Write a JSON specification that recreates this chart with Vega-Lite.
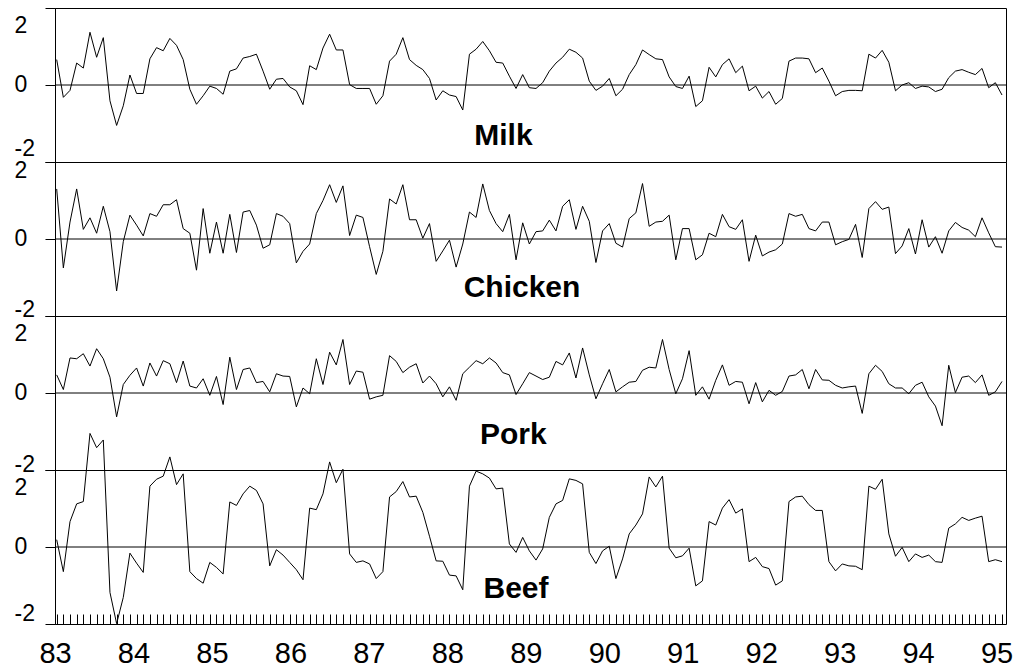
{
  "$schema": "https://vega.github.io/schema/vega-lite/v6.json",
  "background": "white",
  "padding": {"left": 13, "top": 7, "right": 5, "bottom": 5},
  "bounds": "flush",
  "datasets": {
    "food": [
      {"i":0,"milk":0.66,"chicken":1.30,"pork":0.47,"beef":0.19},
      {"i":1,"milk":-0.32,"chicken":-0.75,"pork":0.09,"beef":-0.64},
      {"i":2,"milk":-0.14,"chicken":0.44,"pork":0.91,"beef":0.66},
      {"i":3,"milk":0.57,"chicken":1.30,"pork":0.89,"beef":1.12},
      {"i":4,"milk":0.44,"chicken":0.25,"pork":1.02,"beef":1.18},
      {"i":5,"milk":1.37,"chicken":0.55,"pork":0.70,"beef":2.95},
      {"i":6,"milk":0.72,"chicken":0.15,"pork":1.15,"beef":2.58},
      {"i":7,"milk":1.23,"chicken":0.85,"pork":0.89,"beef":2.78},
      {"i":8,"milk":-0.41,"chicken":0.19,"pork":0.41,"beef":-1.18},
      {"i":9,"milk":-1.05,"chicken":-1.35,"pork":-0.62,"beef":-1.99},
      {"i":10,"milk":-0.54,"chicken":-0.07,"pork":0.22,"beef":-1.31},
      {"i":11,"milk":0.26,"chicken":0.62,"pork":0.46,"beef":-0.16},
      {"i":12,"milk":-0.22,"chicken":0.36,"pork":0.65,"beef":-0.42},
      {"i":13,"milk":-0.22,"chicken":0.08,"pork":0.18,"beef":-0.66},
      {"i":14,"milk":0.68,"chicken":0.66,"pork":0.78,"beef":1.58},
      {"i":15,"milk":0.97,"chicken":0.59,"pork":0.44,"beef":1.76},
      {"i":16,"milk":0.89,"chicken":0.89,"pork":0.84,"beef":1.84},
      {"i":17,"milk":1.21,"chicken":0.89,"pork":0.76,"beef":2.34},
      {"i":18,"milk":1.03,"chicken":1.02,"pork":0.27,"beef":1.62},
      {"i":19,"milk":0.66,"chicken":0.27,"pork":0.83,"beef":1.90},
      {"i":20,"milk":-0.11,"chicken":0.15,"pork":0.18,"beef":-0.64},
      {"i":21,"milk":-0.50,"chicken":-0.81,"pork":0.13,"beef":-0.82},
      {"i":22,"milk":-0.28,"chicken":0.79,"pork":0.37,"beef":-0.94},
      {"i":23,"milk":-0.03,"chicken":-0.37,"pork":-0.06,"beef":-0.40},
      {"i":24,"milk":-0.09,"chicken":0.44,"pork":0.43,"beef":-0.53},
      {"i":25,"milk":-0.24,"chicken":-0.37,"pork":-0.30,"beef":-0.70},
      {"i":26,"milk":0.36,"chicken":0.64,"pork":0.93,"beef":1.17},
      {"i":27,"milk":0.42,"chicken":-0.35,"pork":0.09,"beef":1.08},
      {"i":28,"milk":0.70,"chicken":0.70,"pork":0.61,"beef":1.38},
      {"i":29,"milk":0.74,"chicken":0.74,"pork":0.65,"beef":1.58},
      {"i":30,"milk":0.80,"chicken":0.36,"pork":0.27,"beef":1.47},
      {"i":31,"milk":0.36,"chicken":-0.24,"pork":0.30,"beef":1.12},
      {"i":32,"milk":-0.11,"chicken":-0.15,"pork":0.03,"beef":-0.49},
      {"i":33,"milk":0.15,"chicken":0.66,"pork":0.50,"beef":-0.07},
      {"i":34,"milk":0.17,"chicken":0.59,"pork":0.44,"beef":-0.21},
      {"i":35,"milk":-0.05,"chicken":0.40,"pork":0.43,"beef":-0.40},
      {"i":36,"milk":-0.15,"chicken":-0.62,"pork":-0.36,"beef":-0.59},
      {"i":37,"milk":-0.51,"chicken":-0.32,"pork":0.13,"beef":-0.85},
      {"i":38,"milk":0.50,"chicken":-0.13,"pork":-0.02,"beef":1.01},
      {"i":39,"milk":0.40,"chicken":0.66,"pork":0.89,"beef":0.97},
      {"i":40,"milk":0.96,"chicken":1.00,"pork":0.22,"beef":1.38},
      {"i":41,"milk":1.32,"chicken":1.41,"pork":1.06,"beef":2.21},
      {"i":42,"milk":0.91,"chicken":0.95,"pork":0.73,"beef":1.67},
      {"i":43,"milk":0.91,"chicken":1.38,"pork":1.39,"beef":2.02},
      {"i":44,"milk":0.01,"chicken":0.09,"pork":0.22,"beef":-0.18},
      {"i":45,"milk":-0.09,"chicken":0.62,"pork":0.57,"beef":-0.40},
      {"i":46,"milk":-0.09,"chicken":0.56,"pork":0.54,"beef":-0.36},
      {"i":47,"milk":-0.09,"chicken":-0.20,"pork":-0.16,"beef":-0.44},
      {"i":48,"milk":-0.50,"chicken":-0.92,"pork":-0.10,"beef":-0.82},
      {"i":49,"milk":-0.28,"chicken":-0.32,"pork":-0.06,"beef":-0.64},
      {"i":50,"milk":0.62,"chicken":1.04,"pork":0.97,"beef":1.30},
      {"i":51,"milk":0.80,"chicken":0.91,"pork":0.82,"beef":1.44},
      {"i":52,"milk":1.23,"chicken":1.41,"pork":0.53,"beef":1.70},
      {"i":53,"milk":0.66,"chicken":0.50,"pork":0.67,"beef":1.30},
      {"i":54,"milk":0.51,"chicken":0.50,"pork":0.76,"beef":1.32},
      {"i":55,"milk":0.40,"chicken":0.02,"pork":0.26,"beef":0.90},
      {"i":56,"milk":0.17,"chicken":0.40,"pork":0.44,"beef":0.28},
      {"i":57,"milk":-0.39,"chicken":-0.58,"pork":0.24,"beef":-0.36},
      {"i":58,"milk":-0.15,"chicken":-0.31,"pork":-0.10,"beef":-0.37},
      {"i":59,"milk":-0.26,"chicken":-0.03,"pork":0.16,"beef":-0.73},
      {"i":60,"milk":-0.30,"chicken":-0.73,"pork":-0.19,"beef":-0.75},
      {"i":61,"milk":-0.65,"chicken":-0.13,"pork":0.50,"beef":-1.11},
      {"i":62,"milk":0.80,"chicken":0.70,"pork":0.67,"beef":1.58},
      {"i":63,"milk":0.93,"chicken":0.56,"pork":0.84,"beef":1.97},
      {"i":64,"milk":1.13,"chicken":1.43,"pork":0.76,"beef":1.90},
      {"i":65,"milk":0.89,"chicken":0.74,"pork":0.91,"beef":1.79},
      {"i":66,"milk":0.59,"chicken":0.40,"pork":0.78,"beef":1.51},
      {"i":67,"milk":0.57,"chicken":0.19,"pork":0.53,"beef":1.53},
      {"i":68,"milk":0.23,"chicken":0.64,"pork":0.47,"beef":0.08},
      {"i":69,"milk":-0.09,"chicken":-0.54,"pork":-0.04,"beef":-0.14},
      {"i":70,"milk":0.27,"chicken":0.42,"pork":0.24,"beef":0.25},
      {"i":71,"milk":-0.07,"chicken":-0.13,"pork":0.53,"beef":-0.10},
      {"i":72,"milk":-0.09,"chicken":0.19,"pork":0.44,"beef":-0.34},
      {"i":73,"milk":0.06,"chicken":0.21,"pork":0.35,"beef":-0.05},
      {"i":74,"milk":0.36,"chicken":0.49,"pork":0.41,"beef":0.77},
      {"i":75,"milk":0.57,"chicken":0.21,"pork":0.82,"beef":1.12},
      {"i":76,"milk":0.72,"chicken":0.85,"pork":0.73,"beef":1.21},
      {"i":77,"milk":0.93,"chicken":1.02,"pork":1.04,"beef":1.77},
      {"i":78,"milk":0.85,"chicken":0.25,"pork":0.39,"beef":1.73},
      {"i":79,"milk":0.70,"chicken":0.85,"pork":1.17,"beef":1.64},
      {"i":80,"milk":0.10,"chicken":0.46,"pork":0.47,"beef":-0.14},
      {"i":81,"milk":-0.14,"chicken":-0.61,"pork":-0.15,"beef":-0.43},
      {"i":82,"milk":-0.03,"chicken":0.21,"pork":0.24,"beef":-0.10},
      {"i":83,"milk":0.17,"chicken":0.40,"pork":0.61,"beef":0.02},
      {"i":84,"milk":-0.28,"chicken":-0.11,"pork":0.03,"beef":-0.82},
      {"i":85,"milk":-0.11,"chicken":-0.21,"pork":0.16,"beef":-0.31},
      {"i":86,"milk":0.27,"chicken":0.53,"pork":0.28,"beef":0.34},
      {"i":87,"milk":0.53,"chicken":0.68,"pork":0.30,"beef":0.57},
      {"i":88,"milk":0.91,"chicken":1.44,"pork":0.59,"beef":0.86},
      {"i":89,"milk":0.79,"chicken":0.33,"pork":0.67,"beef":1.82},
      {"i":90,"milk":0.68,"chicken":0.44,"pork":0.65,"beef":1.56},
      {"i":91,"milk":0.66,"chicken":0.46,"pork":1.39,"beef":1.84},
      {"i":92,"milk":0.21,"chicken":0.62,"pork":0.61,"beef":-0.03},
      {"i":93,"milk":-0.04,"chicken":-0.54,"pork":-0.02,"beef":-0.28},
      {"i":94,"milk":-0.09,"chicken":0.27,"pork":0.37,"beef":-0.23},
      {"i":95,"milk":0.23,"chicken":0.27,"pork":1.10,"beef":-0.03},
      {"i":96,"milk":-0.56,"chicken":-0.54,"pork":-0.06,"beef":-1.01},
      {"i":97,"milk":-0.41,"chicken":-0.41,"pork":0.16,"beef":-0.88},
      {"i":98,"milk":0.46,"chicken":0.15,"pork":-0.16,"beef":0.66},
      {"i":99,"milk":0.21,"chicken":0.06,"pork":0.33,"beef":0.57},
      {"i":100,"milk":0.53,"chicken":0.64,"pork":0.73,"beef":1.01},
      {"i":101,"milk":0.68,"chicken":0.32,"pork":0.20,"beef":1.23},
      {"i":102,"milk":0.32,"chicken":0.25,"pork":0.30,"beef":0.88},
      {"i":103,"milk":0.49,"chicken":0.50,"pork":0.28,"beef":0.99},
      {"i":104,"milk":-0.15,"chicken":-0.58,"pork":-0.28,"beef":-0.38},
      {"i":105,"milk":-0.03,"chicken":0.10,"pork":0.27,"beef":-0.27},
      {"i":106,"milk":-0.34,"chicken":-0.44,"pork":-0.23,"beef":-0.51},
      {"i":107,"milk":-0.17,"chicken":-0.34,"pork":0.07,"beef":-0.56},
      {"i":108,"milk":-0.50,"chicken":-0.28,"pork":-0.06,"beef":-0.99},
      {"i":109,"milk":-0.35,"chicken":-0.13,"pork":0.04,"beef":-0.88},
      {"i":110,"milk":0.62,"chicken":0.66,"pork":0.44,"beef":1.18},
      {"i":111,"milk":0.70,"chicken":0.59,"pork":0.47,"beef":1.30},
      {"i":112,"milk":0.70,"chicken":0.64,"pork":0.61,"beef":1.32},
      {"i":113,"milk":0.68,"chicken":0.27,"pork":0.11,"beef":1.10},
      {"i":114,"milk":0.32,"chicken":0.21,"pork":0.61,"beef":0.95},
      {"i":115,"milk":0.44,"chicken":0.44,"pork":0.34,"beef":0.95},
      {"i":116,"milk":0.10,"chicken":0.44,"pork":0.33,"beef":-0.38},
      {"i":117,"milk":-0.28,"chicken":-0.15,"pork":0.20,"beef":-0.62},
      {"i":118,"milk":-0.17,"chicken":-0.07,"pork":0.13,"beef":-0.44},
      {"i":119,"milk":-0.14,"chicken":-0.01,"pork":0.16,"beef":-0.49},
      {"i":120,"milk":-0.14,"chicken":0.38,"pork":0.18,"beef":-0.50},
      {"i":121,"milk":-0.15,"chicken":-0.48,"pork":-0.53,"beef":-0.59},
      {"i":122,"milk":0.80,"chicken":0.79,"pork":0.50,"beef":1.58},
      {"i":123,"milk":0.70,"chicken":0.97,"pork":0.72,"beef":1.50},
      {"i":124,"milk":0.90,"chicken":0.77,"pork":0.56,"beef":1.76},
      {"i":125,"milk":0.59,"chicken":0.83,"pork":0.24,"beef":0.34},
      {"i":126,"milk":-0.15,"chicken":-0.38,"pork":0.13,"beef":-0.24},
      {"i":127,"milk":0.00,"chicken":-0.18,"pork":0.13,"beef":-0.01},
      {"i":128,"milk":0.06,"chicken":0.27,"pork":-0.02,"beef":-0.38},
      {"i":129,"milk":-0.09,"chicken":-0.39,"pork":0.20,"beef":-0.18},
      {"i":130,"milk":-0.03,"chicken":0.50,"pork":0.28,"beef":-0.27},
      {"i":131,"milk":-0.05,"chicken":-0.21,"pork":-0.10,"beef":-0.21},
      {"i":132,"milk":-0.17,"chicken":0.06,"pork":-0.34,"beef":-0.38},
      {"i":133,"milk":-0.11,"chicken":-0.37,"pork":-0.85,"beef":-0.40},
      {"i":134,"milk":0.19,"chicken":0.21,"pork":0.72,"beef":0.49},
      {"i":135,"milk":0.36,"chicken":0.43,"pork":0.01,"beef":0.60},
      {"i":136,"milk":0.40,"chicken":0.30,"pork":0.41,"beef":0.77},
      {"i":137,"milk":0.33,"chicken":0.23,"pork":0.44,"beef":0.69},
      {"i":138,"milk":0.27,"chicken":0.06,"pork":0.27,"beef":0.75},
      {"i":139,"milk":0.43,"chicken":0.55,"pork":0.47,"beef":0.80},
      {"i":140,"milk":-0.07,"chicken":0.16,"pork":-0.06,"beef":-0.38},
      {"i":141,"milk":0.06,"chicken":-0.20,"pork":0.03,"beef":-0.33},
      {"i":142,"milk":-0.26,"chicken":-0.21,"pork":0.30,"beef":-0.38}
    ]
  },
  "spacing": 0,
  "vconcat": [
    {
      "width": 951, "height": 154,
      "layer": [
        {"data": {"values": [{}]}, "mark": {"type": "rule", "color": "black", "strokeWidth": 1},
         "encoding": {"y": {"datum": 0, "type": "quantitative", "scale": {"domain": [-2, 2]}}}},
        {"data": {"name": "food"}, "mark": {"type": "line", "color": "black", "strokeWidth": 1},
         "encoding": {
           "x": {"field": "i", "type": "quantitative", "scale": {"domain": [-0.255, 142.6]}, "axis": null},
           "y": {"field": "milk", "type": "quantitative", "scale": {"domain": [-2, 2]},
                 "axis": {"title": null, "values": [-2, -1, 0, 1, 2], "labelExpr": "datum.value % 2 == 0 ? '' + datum.value : ''", "grid": false, "domainColor": "black", "tickColor": "black", "tickSize": {"condition": {"test": "abs(datum.value) == 1", "value": 5}, "value": 10}, "labelAlign": "left", "labelBaseline": "middle", "labelPadding": 31, "labelFont": "Liberation Sans", "labelFontSize": 23, "labelColor": "black", "labelOffset": {"condition": [{"test": "datum.value == 2", "value": 17}, {"test": "datum.value == -2", "value": -14}], "value": -1}, "labelFlush": false, "labelOverlap": false}}
         }},
        {"data": {"values": [{}]}, "mark": {"type": "text", "font": "Liberation Sans", "fontSize": 30, "fontWeight": "bold", "color": "black", "baseline": "middle"},
         "encoding": {"x": {"datum": 67.1, "type": "quantitative", "scale": {"domain": [-0.255, 142.6]}, "axis": null}, "y": {"datum": -1.33, "type": "quantitative"}, "text": {"value": "Milk"}}}
      ]
    },
    {
      "width": 951, "height": 154,
      "layer": [
        {"data": {"values": [{}]}, "mark": {"type": "rule", "color": "black", "strokeWidth": 1},
         "encoding": {"y": {"datum": 0, "type": "quantitative", "scale": {"domain": [-2, 2]}}}},
        {"data": {"name": "food"}, "mark": {"type": "line", "color": "black", "strokeWidth": 1},
         "encoding": {
           "x": {"field": "i", "type": "quantitative", "scale": {"domain": [-0.255, 142.6]}, "axis": null},
           "y": {"field": "chicken", "type": "quantitative", "scale": {"domain": [-2, 2]},
                 "axis": {"title": null, "values": [-2, -1, 0, 1, 2], "labelExpr": "datum.value % 2 == 0 ? '' + datum.value : ''", "grid": false, "domainColor": "black", "tickColor": "black", "tickSize": {"condition": {"test": "abs(datum.value) == 1", "value": 5}, "value": 10}, "labelAlign": "left", "labelBaseline": "middle", "labelPadding": 31, "labelFont": "Liberation Sans", "labelFontSize": 23, "labelColor": "black", "labelOffset": {"condition": [{"test": "datum.value == 2", "value": 8}, {"test": "datum.value == -2", "value": -7}], "value": -1}, "labelFlush": false, "labelOverlap": false}}
         }},
        {"data": {"values": [{}]}, "mark": {"type": "text", "font": "Liberation Sans", "fontSize": 30, "fontWeight": "bold", "color": "black", "baseline": "middle"},
         "encoding": {"x": {"datum": 69.9, "type": "quantitative", "scale": {"domain": [-0.255, 142.6]}, "axis": null}, "y": {"datum": -1.28, "type": "quantitative"}, "text": {"value": "Chicken"}}}
      ]
    },
    {
      "width": 951, "height": 154,
      "layer": [
        {"data": {"values": [{}]}, "mark": {"type": "rule", "color": "black", "strokeWidth": 1},
         "encoding": {"y": {"datum": 0, "type": "quantitative", "scale": {"domain": [-2, 2]}}}},
        {"data": {"name": "food"}, "mark": {"type": "line", "color": "black", "strokeWidth": 1},
         "encoding": {
           "x": {"field": "i", "type": "quantitative", "scale": {"domain": [-0.255, 142.6]}, "axis": null},
           "y": {"field": "pork", "type": "quantitative", "scale": {"domain": [-2, 2]},
                 "axis": {"title": null, "values": [-2, -1, 0, 1, 2], "labelExpr": "datum.value % 2 == 0 ? '' + datum.value : ''", "grid": false, "domainColor": "black", "tickColor": "black", "tickSize": {"condition": {"test": "abs(datum.value) == 1", "value": 5}, "value": 10}, "labelAlign": "left", "labelBaseline": "middle", "labelPadding": 31, "labelFont": "Liberation Sans", "labelFontSize": 23, "labelColor": "black", "labelOffset": {"condition": [{"test": "datum.value == 2", "value": 17}, {"test": "datum.value == -2", "value": -6}], "value": -1}, "labelFlush": false, "labelOverlap": false}}
         }},
        {"data": {"values": [{}]}, "mark": {"type": "text", "font": "Liberation Sans", "fontSize": 30, "fontWeight": "bold", "color": "black", "baseline": "middle"},
         "encoding": {"x": {"datum": 68.6, "type": "quantitative", "scale": {"domain": [-0.255, 142.6]}, "axis": null}, "y": {"datum": -1.09, "type": "quantitative"}, "text": {"value": "Pork"}}}
      ]
    },
    {
      "width": 951, "height": 154,
      "resolve": {"scale": {"x": "independent"}, "axis": {"x": "independent"}},
      "layer": [
        {"data": {"values": [{}]}, "mark": {"type": "rule", "color": "black", "strokeWidth": 1},
         "encoding": {"y": {"datum": 0, "type": "quantitative", "scale": {"domain": [-2, 2]}}}},
        {"data": {"name": "food"}, "mark": {"type": "line", "color": "black", "strokeWidth": 1},
         "encoding": {
           "x": {"field": "i", "type": "quantitative", "scale": {"domain": [-0.255, 142.6]},
                 "axis": {"orient": "bottom", "title": null, "tickCount": 143, "labels": false, "domain": false, "grid": false, "tickSize": -10, "tickColor": "black"}},
           "y": {"field": "beef", "type": "quantitative", "scale": {"domain": [-2, 2]},
                 "axis": {"title": null, "values": [-2, -1, 0, 1, 2], "labelExpr": "datum.value % 2 == 0 ? '' + datum.value : ''", "grid": false, "domainColor": "black", "tickColor": "black", "tickSize": {"condition": {"test": "abs(datum.value) == 1", "value": 5}, "value": 10}, "labelAlign": "left", "labelBaseline": "middle", "labelPadding": 31, "labelFont": "Liberation Sans", "labelFontSize": 23, "labelColor": "black", "labelOffset": {"condition": [{"test": "datum.value == 2", "value": 17}, {"test": "datum.value == -2", "value": -11}], "value": -1}, "labelFlush": false, "labelOverlap": false}}
         }},
        {"data": {"values": [{}]}, "mark": {"type": "text", "font": "Liberation Sans", "fontSize": 30, "fontWeight": "bold", "color": "black", "baseline": "middle"},
         "encoding": {"x": {"datum": 69.0, "type": "quantitative", "scale": {"domain": [-0.255, 142.6]}, "axis": null}, "y": {"datum": -1.08, "type": "quantitative"}, "text": {"value": "Beef"}}},
        {"data": {"values": [{}]}, "mark": {"type": "point", "opacity": 0},
         "encoding": {"x": {"datum": 83, "type": "quantitative", "scale": {"domain": [83, 95.12]},
                            "axis": {"orient": "bottom", "title": null, "values": [83, 84, 85, 86, 87, 88, 89, 90, 91, 92, 93, 94, 95], "format": "d", "ticks": false, "domain": false, "grid": false, "labelFont": "Liberation Sans", "labelFontSize": 29, "labelColor": "black", "labelPadding": 15, "labelFlush": false, "labelOverlap": false}}}}
      ]
    }
  ],
  "config": {
    "view": {"stroke": "black", "strokeWidth": 1},
    "concat": {"spacing": 0}
  }
}
